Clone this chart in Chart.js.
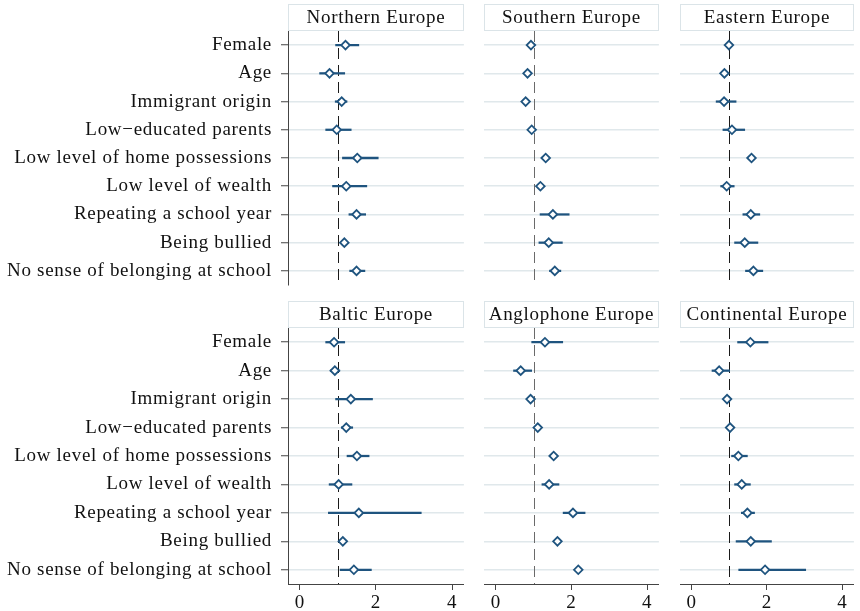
<!DOCTYPE html>
<html>
<head>
<meta charset="utf-8">
<script src="https://cdn.jsdelivr.net/npm/chart.js@4"></script>
<style>
  html, body { margin: 0; padding: 0; background: #fff; }
  #wrap { position: relative; width: 860px; height: 611px; overflow: hidden; }
  #wrap canvas { position: absolute; }
</style>
</head>
<body>
<div id="wrap"></div>
<script>
// Risk factors (rows) and x-axis ticks
const categories = [
  'Female',
  'Age',
  'Immigrant origin',
  'Low\u2212educated parents',
  'Low level of home possessions',
  'Low level of wealth',
  'Repeating a school year',
  'Being bullied',
  'No sense of belonging at school'
];
const xTicks = [0, 2, 4];

// Estimates with lower / upper confidence bounds, by region
const northernEst = [1.20, 0.78, 1.10, 0.97, 1.51, 1.22, 1.49, 1.17, 1.49];
const northernLo  = [0.94, 0.52, 0.93, 0.68, 1.12, 0.86, 1.29, 1.10, 1.31];
const northernHi  = [1.55, 1.18, 1.24, 1.35, 2.06, 1.76, 1.73, 1.25, 1.71];

const southernEst = [0.93, 0.84, 0.79, 0.95, 1.32, 1.18, 1.51, 1.40, 1.56];
const southernLo  = [0.89, 0.80, 0.75, 0.88, 1.22, 1.12, 1.17, 1.14, 1.42];
const southernHi  = [0.98, 0.92, 0.84, 1.02, 1.42, 1.25, 1.94, 1.76, 1.72];

const easternEst  = [0.99, 0.87, 0.86, 1.07, 1.59, 0.93, 1.57, 1.41, 1.64];
const easternLo   = [0.94, 0.83, 0.65, 0.83, 1.55, 0.77, 1.36, 1.14, 1.43];
const easternHi   = [1.04, 0.92, 1.18, 1.41, 1.63, 1.13, 1.81, 1.76, 1.89];

const balticEst   = [0.90, 0.92, 1.34, 1.22, 1.50, 1.02, 1.55, 1.13, 1.42];
const balticLo    = [0.68, 0.80, 0.94, 1.09, 1.24, 0.77, 0.75, 1.06, 1.06];
const balticHi    = [1.18, 1.05, 1.91, 1.39, 1.82, 1.37, 3.19, 1.20, 1.88];

const angloEst    = [1.30, 0.66, 0.92, 1.11, 1.53, 1.41, 2.04, 1.63, 2.18];
const angloLo     = [0.95, 0.47, 0.87, 1.03, 1.48, 1.22, 1.78, 1.58, 2.13];
const angloHi     = [1.77, 0.95, 0.97, 1.19, 1.58, 1.67, 2.36, 1.68, 2.23];

const contEst     = [1.56, 0.73, 0.94, 1.02, 1.24, 1.33, 1.48, 1.57, 1.95];
const contLo      = [1.22, 0.54, 0.89, 0.97, 1.06, 1.14, 1.32, 1.18, 1.25];
const contHi      = [2.03, 1.01, 0.99, 1.07, 1.48, 1.56, 1.67, 2.12, 3.03];

const panels = [
  { title: 'Northern Europe',    est: northernEst, lo: northernLo, hi: northernHi, col: 0, row: 0 },
  { title: 'Southern Europe',    est: southernEst, lo: southernLo, hi: southernHi, col: 1, row: 0 },
  { title: 'Eastern Europe',     est: easternEst,  lo: easternLo,  hi: easternHi,  col: 2, row: 0 },
  { title: 'Baltic Europe',      est: balticEst,   lo: balticLo,   hi: balticHi,   col: 0, row: 1 },
  { title: 'Anglophone Europe',  est: angloEst,    lo: angloLo,    hi: angloHi,    col: 1, row: 1 },
  { title: 'Continental Europe', est: contEst,     lo: contLo,     hi: contHi,     col: 2, row: 1 }
];

const FONT = 'Liberation Serif';
const NAVY = '#1f547f';
const GRID = '#e0e8eb';
const AXIS = '#444';

const cols = [
  { x: 0,   w: 470, padL: 0,  padR: 2, labels: true,  refColor: '#1a1a1a' },
  { x: 470, w: 195, padL: 14, padR: 2, labels: false, refColor: '#6a6a6a' },
  { x: 665, w: 195, padL: 15, padR: 1, labels: false, refColor: '#1a1a1a' }
];
const rows = [
  { y: 0,   h: 295, padT: 31, padB: 10, showX: false },
  { y: 295, h: 316, padT: 33, padB: 0,  showX: true }
];

// Panel strip above each plot area, and the dashed reference line at 1
const stripPlugin = {
  id: 'strip',
  beforeDraw(chart) {
    chart.ctx.letterSpacing = '0.7px';
  },
  afterDraw(chart, args, opts) {
    const { ctx, chartArea: a } = chart;
    ctx.save();
    const h = 27;
    ctx.fillStyle = '#fff';
    ctx.fillRect(a.left, a.top - h, a.right - a.left, h);
    ctx.strokeStyle = '#dbe4e8';
    ctx.lineWidth = 1;
    ctx.strokeRect(Math.round(a.left) + 0.5, Math.round(a.top - h) + 0.5,
                   Math.round(a.right - a.left) - 1, h - 1);
    ctx.fillStyle = '#111';
    ctx.font = '19px "' + FONT + '"';
    ctx.letterSpacing = '0.7px';
    ctx.textAlign = 'center';
    ctx.textBaseline = 'middle';
    ctx.fillText(opts.text, (a.left + a.right) / 2, a.top - h / 2 + 1);
    ctx.restore();
  },
  beforeDatasetsDraw(chart, args, opts) {
    const { ctx, chartArea: a, scales } = chart;
    const px = Math.round(scales.x.getPixelForValue(1)) + 0.5;
    ctx.save();
    ctx.strokeStyle = opts.refColor;
    ctx.lineWidth = 1;
    ctx.setLineDash([11, 6]);
    ctx.beginPath();
    ctx.moveTo(px, a.top);
    ctx.lineTo(px, a.bottom);
    ctx.stroke();
    ctx.restore();
  }
};

const wrap = document.getElementById('wrap');

panels.forEach(p => {
  const c = cols[p.col];
  const r = rows[p.row];
  const canvas = document.createElement('canvas');
  canvas.width = c.w;
  canvas.height = r.h;
  canvas.style.left = c.x + 'px';
  canvas.style.top = r.y + 'px';
  canvas.style.width = c.w + 'px';
  canvas.style.height = r.h + 'px';
  wrap.appendChild(canvas);

  new Chart(canvas.getContext('2d'), {
    type: 'bar',
    data: {
      labels: categories,
      datasets: [
        {
          type: 'line',
          data: p.est,
          showLine: false,
          pointStyle: 'rectRot',
          pointRadius: 4.3,
          pointBorderWidth: 1.8,
          pointBackgroundColor: '#fff',
          pointBorderColor: NAVY,
          order: 0
        },
        {
          type: 'bar',
          data: p.lo.map((lo, i) => [lo, p.hi[i]]),
          backgroundColor: NAVY,
          borderWidth: 0,
          barThickness: 1.6,
          order: 1
        }
      ]
    },
    options: {
      indexAxis: 'y',
      responsive: false,
      animation: false,
      devicePixelRatio: 1,
      layout: { padding: { left: c.padL, right: c.padR, top: r.padT, bottom: r.padB } },
      plugins: {
        legend: { display: false },
        tooltip: { enabled: false },
        strip: { text: p.title, refColor: c.refColor }
      },
      scales: {
        x: {
          type: 'linear',
          min: -0.31,
          max: 4.31,
          display: r.showX,
          afterBuildTicks: s => { s.ticks = xTicks.map(v => ({ value: v })); },
          afterFit: s => {
            if (r.showX) s.height = 27;
            s.paddingLeft = 0; s.paddingRight = 0;
          },
          grid: {
            drawOnChartArea: false,
            drawTicks: true,
            tickLength: 6,
            color: AXIS,
            tickColor: AXIS,
            tickWidth: 1
          },
          border: { display: true, color: AXIS, width: 1 },
          ticks: {
            font: { family: FONT, size: 19 },
            color: '#111',
            padding: 2,
            maxRotation: 0
          }
        },
        y: {
          type: 'category',
          offset: true,
          afterFit: s => {
            s.width = c.labels ? 288 : 0;
            s.paddingTop = 0; s.paddingBottom = 0;
          },
          grid: {
            offset: false,
            color: GRID,
            lineWidth: 1.5,
            drawTicks: c.labels,
            tickLength: 7,
            tickColor: AXIS,
            tickWidth: 1
          },
          border: { display: c.labels, color: AXIS, width: 1 },
          ticks: {
            display: c.labels,
            autoSkip: false,
            font: { family: FONT, size: 19 },
            color: '#111',
            padding: 9
          }
        }
      }
    },
    plugins: [stripPlugin]
  });
});
</script>
</body>
</html>
